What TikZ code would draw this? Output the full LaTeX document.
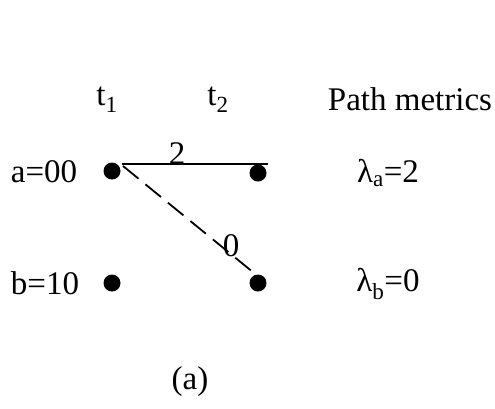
\documentclass[tikz,border=0pt]{standalone}
\usepackage{fontspec}
\setmainfont{Liberation Serif}
\begin{document}
\begin{tikzpicture}[x=1pt,y=-1pt,
  dot/.style={circle,fill=black,inner sep=0pt,minimum size=17pt},
  lbl/.style={font=\fontsize{33}{38}\selectfont,inner sep=0pt},
  wt/.style={font=\fontsize{33}{38}\selectfont,inner sep=0pt},
  edge/.style={line width=1.8pt}]
\useasboundingbox (0,0) rectangle (495,408);
\node[dot] (a1) at (112,171) {};
\node[dot] (a2) at (258,173) {};
\node[dot] (b1) at (112,283) {};
\node[dot] (b2) at (258,283) {};
\coordinate (s) at (122,164);
\coordinate (e) at (268,164);
\coordinate (d1) at (123,166);
\coordinate (d2) at (254,273);
\draw[edge] (s) -- (e);
\draw[edge,dash pattern=on 20pt off 9pt] (d1) -- (d2);
\node[wt] (w2) at (177,154) {2};
\node[wt] (w0) at (231,246) {0};
\node[lbl] (t1) at (107,100) {t\textsubscript{1}};
\node[lbl] (t2) at (218,100) {t\textsubscript{2}};
\node[lbl] (pm) at (410,99) {Path metrics};
\node[lbl] (la) at (44,172) {a=00};
\node[lbl] (lb) at (45,283) {b=10};
\node[lbl] (ma) at (388,173) {λ\textsubscript{a}=2};
\node[lbl] (mb) at (388,284) {λ\textsubscript{b}=0};
\node[lbl] (cap) at (190,382) {(a)};
\end{tikzpicture}
\end{document}
